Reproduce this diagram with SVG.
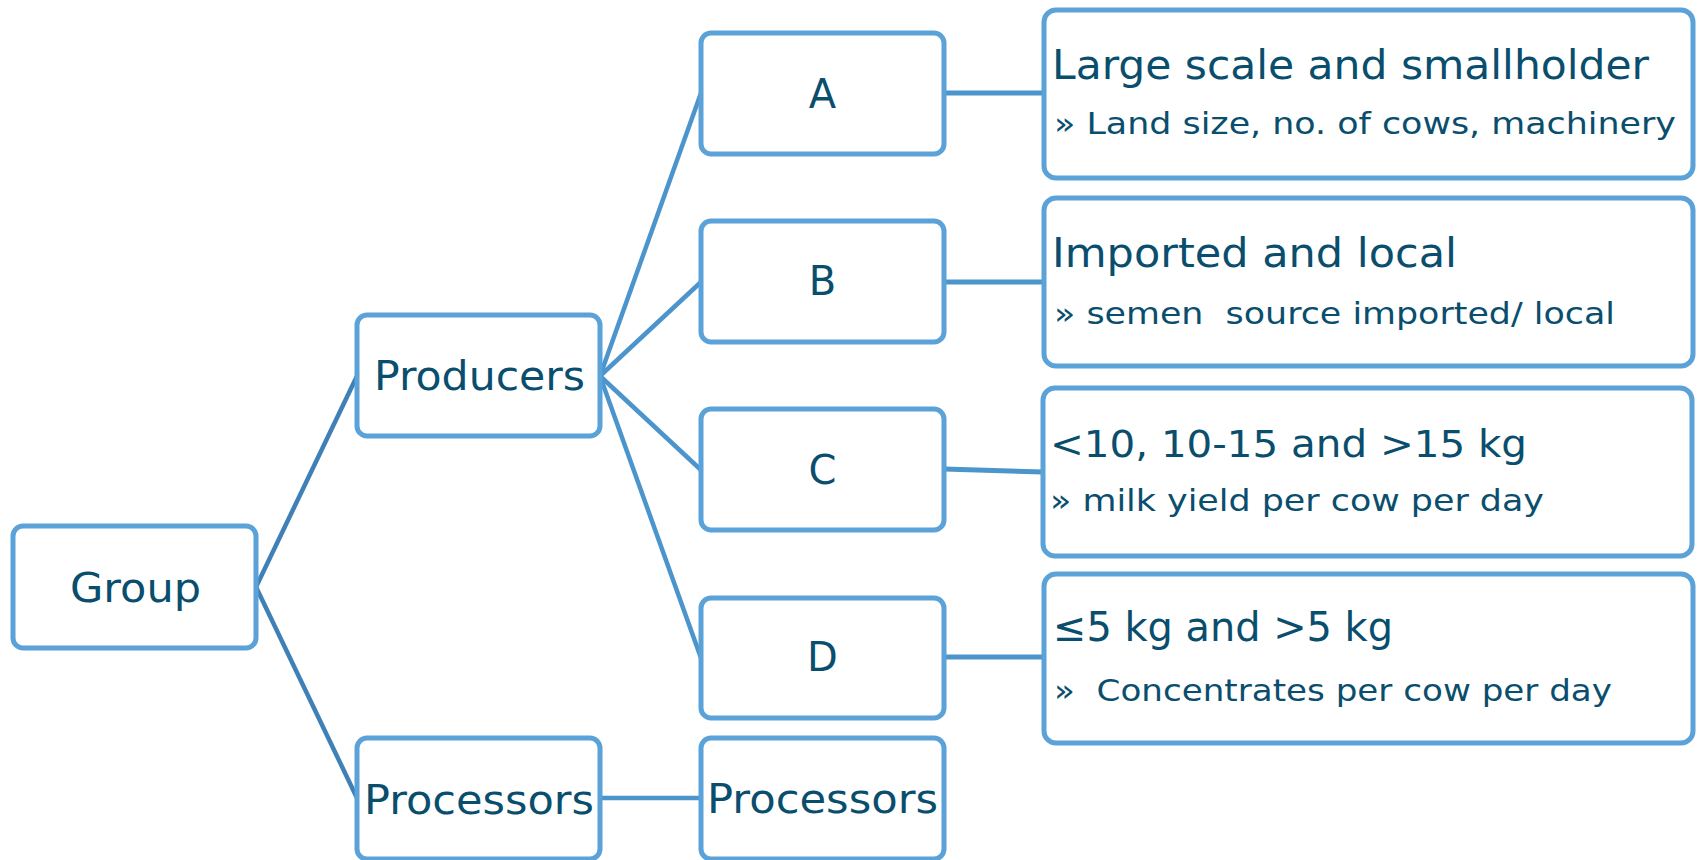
<svg xmlns="http://www.w3.org/2000/svg" width="1697" height="860" viewBox="0 0 1697 860">
<style>
.box{fill:#ffffff;stroke:#5AA2D8;stroke-width:5}
.ln{stroke:#4B94CC;stroke-width:4.5;fill:none}
.ln2{stroke:#3F80B6;stroke-width:4.5;fill:none}
.t{font-family:"DejaVu Sans","Verdana",sans-serif;fill:#0A4E6E}
.big{font-size:40px}
.sub{font-size:30px}
</style>
<rect width="1697" height="860" fill="#ffffff"/>
<g id="connectors">
<line class="ln2" x1="256" y1="587" x2="357" y2="376"/>
<line class="ln2" x1="256" y1="587" x2="357" y2="798"/>
<line class="ln" x1="600" y1="376" x2="701" y2="93"/>
<line class="ln" x1="600" y1="376" x2="701" y2="282"/>
<line class="ln" x1="600" y1="376" x2="701" y2="470"/>
<line class="ln" x1="600" y1="376" x2="701" y2="658"/>
<line class="ln" x1="600" y1="798" x2="701" y2="798"/>
<line class="ln" x1="944" y1="93" x2="1044" y2="93" style="stroke-width:5"/>
<line class="ln" x1="944" y1="282" x2="1044" y2="282" style="stroke-width:5"/>
<line class="ln" x1="944" y1="469" x2="1043" y2="472" style="stroke-width:5"/>
<line class="ln" x1="944" y1="657" x2="1044" y2="657" style="stroke-width:5"/>
</g>
<g id="group">
<rect class="box" x="13" y="526" width="243" height="122" rx="10"/>
<text class="t big" x="70" y="602" textLength="131" lengthAdjust="spacingAndGlyphs">Group</text>
</g>
<g id="producers">
<rect class="box" x="357" y="315" width="243" height="121" rx="10"/>
<text class="t big" x="374" y="390" textLength="211" lengthAdjust="spacingAndGlyphs">Producers</text>
</g>
<g id="processors1">
<rect class="box" x="357" y="738" width="243" height="121" rx="10"/>
<text class="t big" x="364" y="814" textLength="230" lengthAdjust="spacingAndGlyphs">Processors</text>
</g>
<g id="nodeA">
<rect class="box" x="701" y="33" width="243" height="121" rx="10"/>
<text class="t big" x="822.5" y="107.5" text-anchor="middle">A</text>
</g>
<g id="nodeB">
<rect class="box" x="701" y="221" width="243" height="121" rx="10"/>
<text class="t big" x="822.5" y="295" text-anchor="middle">B</text>
</g>
<g id="nodeC">
<rect class="box" x="701" y="409" width="243" height="121" rx="10"/>
<text class="t big" x="822.5" y="483.5" text-anchor="middle">C</text>
</g>
<g id="nodeD">
<rect class="box" x="701" y="598" width="243" height="120" rx="10"/>
<text class="t big" x="822.5" y="671" text-anchor="middle">D</text>
</g>
<g id="processors2">
<rect class="box" x="701" y="738" width="243" height="121" rx="10"/>
<text class="t big" x="707" y="813" textLength="231" lengthAdjust="spacingAndGlyphs">Processors</text>
</g>
<g id="descA">
<rect class="box" x="1044" y="10" width="649" height="168" rx="12"/>
<text class="t big" x="1052" y="79" textLength="597" lengthAdjust="spacingAndGlyphs">Large scale and smallholder</text>
<text class="t sub" x="1054" y="134" textLength="622" lengthAdjust="spacingAndGlyphs">» Land size, no. of cows, machinery</text>
</g>
<g id="descB">
<rect class="box" x="1044" y="198" width="649" height="168" rx="12"/>
<text class="t big" x="1052" y="266.5" textLength="405" lengthAdjust="spacingAndGlyphs">Imported and local</text>
<text class="t sub" x="1054" y="324" textLength="561" lengthAdjust="spacingAndGlyphs">» semen&#160; source imported/ local</text>
</g>
<g id="descC">
<rect class="box" x="1043" y="388" width="649" height="168" rx="12"/>
<text class="t" style="font-size:37px" x="1050" y="457" textLength="477" lengthAdjust="spacingAndGlyphs">&lt;10, 10-15 and &gt;15 kg</text>
<text class="t" style="font-size:31px" x="1050" y="511" textLength="494" lengthAdjust="spacingAndGlyphs">» milk yield per cow per day</text>
</g>
<g id="descD">
<rect class="box" x="1044" y="574" width="649" height="169" rx="12"/>
<text class="t big" x="1053" y="641" textLength="340" lengthAdjust="spacingAndGlyphs">≤5 kg and &gt;5 kg</text>
<text class="t sub" x="1054" y="701" textLength="558" lengthAdjust="spacingAndGlyphs">»&#160; Concentrates per cow per day</text>
</g>
</svg>
